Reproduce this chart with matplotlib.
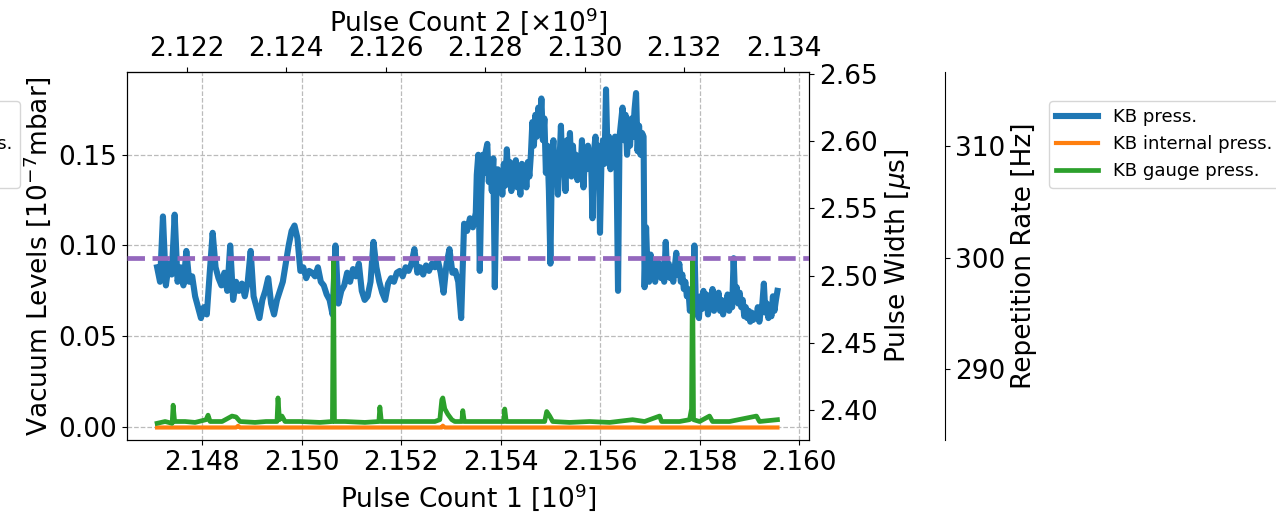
import numpy as np
import matplotlib
matplotlib.use("Agg")
import matplotlib.pyplot as plt

# ---------------- data ----------------
# KB press. read in three stretches (start / end pulse count 1, values)
kb_seg1_range = (2.147096, 2.153502)
kb_seg1 = [
    0.088, 0.080, 0.116, 0.078, 0.090, 0.084, 0.117, 0.080, 0.088, 0.078,
    0.097, 0.080, 0.083, 0.072, 0.066, 0.060, 0.066, 0.062, 0.085, 0.107,
    0.088, 0.082, 0.078, 0.085, 0.075, 0.100, 0.070, 0.080, 0.075, 0.079,
    0.072, 0.080, 0.097, 0.072, 0.066, 0.060, 0.070, 0.075, 0.082, 0.068,
    0.062, 0.070, 0.075, 0.080, 0.090, 0.100, 0.108, 0.111, 0.104, 0.086,
    0.088, 0.082, 0.086, 0.085, 0.083, 0.088, 0.080, 0.078, 0.073, 0.070,
    0.062, 0.100, 0.068, 0.075, 0.078, 0.085, 0.080, 0.087, 0.083, 0.090,
    0.075, 0.070, 0.072, 0.080, 0.102, 0.088, 0.080, 0.074, 0.070, 0.079,
    0.082, 0.080, 0.085, 0.086, 0.083, 0.088, 0.086, 0.090, 0.098, 0.085,
    0.088, 0.084, 0.089, 0.086, 0.090, 0.088, 0.092, 0.085, 0.074, 0.090,
    0.098, 0.085, 0.086, 0.080, 0.060, 0.112, 0.108, 0.115, 0.110, 0.118,
]
kb_seg2_range = (2.153522, 2.156875)
kb_seg2 = [
    0.139, 0.150, 0.086, 0.128, 0.150, 0.140, 0.152, 0.156, 0.135, 0.145,
    0.130, 0.148, 0.077, 0.128, 0.142, 0.132,
    0.140, 0.128, 0.145, 0.133, 0.153, 0.138, 0.146, 0.130, 0.142, 0.136,
    0.147, 0.132, 0.140, 0.128, 0.145, 0.135, 0.143, 0.132, 0.146, 0.138,
    0.150, 0.168, 0.155, 0.172, 0.160, 0.176, 0.165, 0.181, 0.158, 0.170,
    0.140,
    0.155, 0.130, 0.090, 0.148, 0.158, 0.138, 0.150, 0.128, 0.145,
    0.166, 0.140, 0.152, 0.130, 0.158, 0.145, 0.162, 0.138, 0.155, 0.142,
    0.150, 0.136, 0.148, 0.140, 0.158, 0.132, 0.150, 0.142, 0.155, 0.145,
    0.150, 0.115, 0.152, 0.160, 0.142, 0.155, 0.107, 0.148, 0.158, 0.145,
    0.186,
    0.150, 0.160, 0.142, 0.155, 0.148, 0.160, 0.145, 0.075,
    0.160, 0.168, 0.176, 0.158, 0.172, 0.150, 0.165, 0.155, 0.170, 0.160,
    0.175, 0.184, 0.152, 0.166, 0.150, 0.162, 0.160,
]
kb_seg3_range = (2.156895, 2.159566)
kb_seg3 = [
    0.077, 0.110, 0.085, 0.080, 0.095, 0.083, 0.090, 0.080, 0.092, 0.085,
    0.090, 0.082, 0.088, 0.080, 0.102, 0.083, 0.090, 0.082, 0.086, 0.080,
    0.088, 0.096, 0.084, 0.090, 0.080, 0.084, 0.076, 0.080, 0.072, 0.076,
    0.064, 0.070, 0.066, 0.100, 0.066, 0.062, 0.060,
    0.072, 0.065, 0.075, 0.067, 0.073, 0.062, 0.070, 0.066, 0.076, 0.064,
    0.072, 0.066, 0.074, 0.064, 0.070, 0.062, 0.068, 0.066, 0.073, 0.064,
    0.070, 0.066, 0.093,
    0.070, 0.077, 0.068, 0.074, 0.066, 0.070, 0.061, 0.066, 0.060, 0.064,
    0.058, 0.063, 0.059, 0.062, 0.060, 0.066, 0.058, 0.064, 0.068, 0.079,
    0.063, 0.068, 0.060, 0.066, 0.061, 0.072, 0.064, 0.070, 0.075,
]

gauge_pc1 = [
    2.147096, 2.147257, 2.147398, 2.147418, 2.147448, 2.147659, 2.147859,
    2.148080, 2.148120, 2.148161, 2.148402, 2.148602, 2.148683, 2.148763,
    2.149064, 2.149285, 2.149506, 2.149526, 2.149556, 2.149606, 2.149667,
    2.149968, 2.150369, 2.150620, 2.150641, 2.150661, 2.150871, 2.151273,
    2.151554, 2.151574, 2.151604, 2.151875, 2.152177, 2.152478, 2.152679,
    2.152779, 2.152819, 2.152839, 2.152879, 2.152940, 2.153020, 2.153080,
    2.153221, 2.153241, 2.153271, 2.153582, 2.153883, 2.154064, 2.154084,
    2.154114, 2.154385, 2.154687, 2.154887, 2.154928, 2.154988, 2.155048,
    2.155389, 2.155791, 2.156193, 2.156654, 2.156895, 2.157197, 2.157237,
    2.157598, 2.157799, 2.157839, 2.157859, 2.157879, 2.158000, 2.158200,
    2.158261, 2.158602, 2.159144, 2.159205, 2.159566,
]
gauge_press = [
    0.002, 0.003, 0.002, 0.012, 0.003, 0.003, 0.0025,
    0.004, 0.0065, 0.003, 0.003, 0.006, 0.0055, 0.003,
    0.0025, 0.003, 0.003, 0.016, 0.004, 0.006, 0.003,
    0.003, 0.0025, 0.003, 0.092, 0.003, 0.003, 0.0025,
    0.003, 0.011, 0.003, 0.003, 0.003, 0.003, 0.003,
    0.004, 0.015, 0.016, 0.010, 0.007, 0.004, 0.003,
    0.003, 0.009, 0.003, 0.003, 0.003, 0.003, 0.0099,
    0.003, 0.003, 0.003, 0.003, 0.0085, 0.006, 0.003,
    0.0025, 0.003, 0.0025, 0.004, 0.003, 0.006, 0.003,
    0.003, 0.004, 0.010, 0.093, 0.004, 0.003, 0.006,
    0.003, 0.003, 0.006, 0.003, 0.004,
]

internal_pc1 = [2.147096, 2.148683, 2.148723, 2.148763, 2.152819, 2.152839,
                2.152879, 2.159566]
internal_press = [-0.0003, -0.0003, 0.0006, -0.0003, -0.0003, 0.0007,
                  -0.0003, -0.0003]

rep_rate_nominal = 300.0
pulse_count_offset = 0.02569   # Pulse Count 2 = Pulse Count 1 - offset

labels = ["KB press.", "KB internal press.", "KB gauge press."]

kb_pc1 = np.concatenate([
    np.linspace(*kb_seg1_range, len(kb_seg1)),
    np.linspace(*kb_seg2_range, len(kb_seg2)),
    np.linspace(*kb_seg3_range, len(kb_seg3)),
])
kb_press = np.array(kb_seg1 + kb_seg2 + kb_seg3)

# ---------------- figure ----------------
fig = plt.figure(figsize=(12.76, 5.12), dpi=100)
ax = fig.add_axes([0.0995, 0.1406, 0.5345, 0.71875])
FS = 19

l1, = ax.plot(kb_pc1, kb_press, color="C0", lw=4.4, label=labels[0],
              solid_joinstyle="round")
l2, = ax.plot(internal_pc1, internal_press, color="C1", lw=3.0, label=labels[1])
l3, = ax.plot(gauge_pc1, gauge_press, color="C2", lw=3.4, label=labels[2])

ax.set_ylim(-0.0072, 0.1956)
ax.set_xlim(2.14649, 2.16020)
ax.set_xticks([2.148, 2.150, 2.152, 2.154, 2.156, 2.158, 2.160])
ax.set_xticklabels(["2.148", "2.150", "2.152", "2.154", "2.156", "2.158", "2.160"])
ax.set_yticks([0.00, 0.05, 0.10, 0.15])
ax.set_yticklabels(["0.00", "0.05", "0.10", "0.15"])
ax.grid(True, linestyle="--", color="#bbbbbb", lw=0.9)
ax.tick_params(labelsize=FS)
ax.set_xlabel("Pulse Count 1 [10$^9$]", fontsize=FS)
ax.set_ylabel("Vacuum Levels [10$^{-7}$mbar]", fontsize=FS)

top = ax.secondary_xaxis("top", functions=(lambda x: x - pulse_count_offset,
                                           lambda x: x + pulse_count_offset))
top.set_xticks([2.122, 2.124, 2.126, 2.128, 2.130, 2.132, 2.134])
top.set_xticklabels(["2.122", "2.124", "2.126", "2.128", "2.130", "2.132", "2.134"])
top.tick_params(labelsize=FS)
top.set_xlabel("Pulse Count 2 [×10$^9$]", fontsize=FS)

ax2 = ax.twinx()
ax2.set_ylim(2.3777, 2.6515)
ax2.set_yticks([2.40, 2.45, 2.50, 2.55, 2.60, 2.65])
ax2.set_yticklabels(["2.40", "2.45", "2.50", "2.55", "2.60", "2.65"])
ax2.tick_params(labelsize=FS)
ax2.set_ylabel("Pulse Width [$\\mu$s]", fontsize=FS)

ax3 = ax.twinx()
ax3.spines["right"].set_position(("axes", 1.2))
ax3.spines["top"].set_visible(False)
ax3.spines["left"].set_visible(False)
ax3.spines["bottom"].set_visible(False)
ax3.axhline(rep_rate_nominal, color="C4", lw=3.4, ls="--")
ax3.set_ylim(283.68, 316.59)
ax3.set_yticks([290, 300, 310])
ax3.set_yticklabels(["290", "300", "310"])
ax3.tick_params(labelsize=FS)
ax3.set_ylabel("Repetition Rate [Hz]", fontsize=FS)

handles = [l1, l2, l3]
leg_kw = dict(fontsize=13.1, handlelength=2.3, borderaxespad=0.0)
fig.legend(handles, labels, loc="upper left", bbox_to_anchor=(0.822, 0.803),
           **leg_kw)
fig.legend(handles, labels, loc="upper right", bbox_to_anchor=(0.0157, 0.803),
           **leg_kw)

fig.savefig("out.png", dpi=100)
